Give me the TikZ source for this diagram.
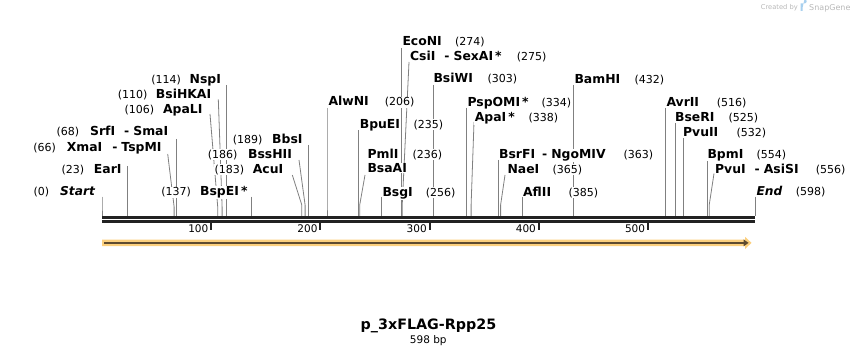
\documentclass[tikz,border=0pt]{standalone}
\usepackage{fontspec}
\setmainfont{DejaVu Sans}
\definecolor{bb}{HTML}{222222}
\definecolor{siteg}{HTML}{808080}
\definecolor{orng}{HTML}{FCD07E}
\definecolor{darkarr}{HTML}{5E4B30}
\definecolor{wm}{HTML}{B8B8B8}
\definecolor{wmblue}{HTML}{A8D0EE}
\newcommand\mysite[5]{%
  \coordinate (t#1) at (#2,#3);
  \coordinate (b#1) at (#5,#4);
  \coordinate (s#1) at (#5,216);
  \draw[siteline] (t#1) -- (b#1) -- (s#1);}
\begin{document}
\begin{tikzpicture}[x=1pt,y=-1pt,
  siteline/.style={draw=siteg,line width=0.8pt},
  nm/.style={font=\bfseries\fontsize{12.4}{12.4}\selectfont,inner sep=0.6pt,fill=white,text=black},
  nmi/.style={nm,font=\bfseries\itshape\fontsize{12.2}{12.2}\selectfont},
  num/.style={font=\fontsize{11}{11}\selectfont,inner sep=0.6pt,fill=white,text=black},
  ticklbl/.style={font=\fontsize{10.5}{10.5}\selectfont,inner sep=0pt,anchor=base east},
  tickmark/.style={draw=bb,line width=2pt}]
\useasboundingbox (0,0) rectangle (858,355);

% ---------- site lines ----------
\mysite{Start}{102}{196.7}{206}{102}
\mysite{EarI}{127.1}{166}{206}{127.1}
\mysite{XmaI}{167.7}{154}{206.7}{174.1}
\mysite{SrfI}{176.3}{139}{206}{176.3}
\mysite{ApaLI}{210}{114}{206.7}{217.7}
\mysite{BsiHKAI}{218.3}{99.3}{206.7}{222.1}
\mysite{NspI}{226.5}{85}{206}{226.5}
\mysite{BspEI}{251.6}{196.7}{206}{251.6}
\mysite{AcuI}{292.3}{175}{205}{301.8}
\mysite{BssHII}{299}{160}{205}{305.1}
\mysite{BbsI}{308.4}{145}{205}{308.4}
\mysite{AlwNI}{327}{108}{205}{327}
\mysite{BpuEI}{358.6}{130.5}{205}{358.6}
\mysite{BsaAI}{365}{175}{205}{359.7}
\mysite{BsgI}{381.5}{197}{205}{381.5}
\mysite{EcoNI}{401.2}{48}{205}{401.2}
\mysite{CsiI}{409}{62}{203}{402.3}
\mysite{BsiWI}{432.9}{85}{205}{432.9}
\mysite{PspOMI}{466.7}{108}{205}{466.7}
\mysite{ApaI}{474}{122}{205}{471.1}
\mysite{BamHI}{573.7}{85}{205}{573.7}
\mysite{BsrFI}{498.4}{160}{205}{498.4}
\mysite{NaeI}{505}{175}{205}{500.6}
\mysite{AflII}{522.4}{197}{205}{522.4}
\mysite{AvrII}{665.5}{108}{205}{665.5}
\mysite{BseRI}{675}{123}{205}{675}
\mysite{PvuII}{683}{138}{205}{683}
\mysite{BpmI}{707}{160}{205}{707}
\mysite{PvuI}{714}{173.5}{205}{709.2}
\mysite{End}{755}{196.7}{205}{755}

% ---------- backbone ----------
\fill[bb] (102,216) rectangle (755,219);
\fill[bb] (102,220) rectangle (755,223);

% ---------- ticks ----------
\foreach \p/\lab in {100/100,200/200,300/300,400/400,500/500}{
  \coordinate (tk\p) at ({102+1.09197*\p},223);
  \coordinate (tb\p) at ({102+1.09197*\p},230);
  \draw[tickmark] (tk\p) -- (tb\p);
  \node[ticklbl] (tl\p) at ({102+1.09197*\p-2.7},232.3) {\lab};
}

% ---------- feature arrow ----------
\fill[orng] (102,239.5) -- (745,239.5) -- (745,236.8) -- (751.5,242.9) -- (745,249) -- (745,246.2) -- (102,246.2) -- cycle;
\draw[darkarr,line width=2pt] (104,242.9) -- (745,242.9);
\fill[darkarr] (743.5,239.4) -- (748.6,242.9) -- (743.5,246.4) -- cycle;

% ---------- left-hand labels ----------
\node[nmi,anchor=base east] (nStart) at (95.7,196) {Start};
\node[num,anchor=base east] (pStart) at (50,196) {(0)};
\node[nm,anchor=base east] (nEarI) at (122.3,173.3) {EarI};
\node[num,anchor=base east] (pEarI) at (85,173.3) {(23)};
\node[nm,anchor=base east] (nXmaI) at (162.3,151.6) {XmaI\hspace{10pt}-\hspace{4pt}TspMI};
\node[num,anchor=base east] (pXmaI) at (56.7,151.6) {(66)};
\node[nm,anchor=base east] (nSrfI) at (169,136) {SrfI\hspace{9pt}-\hspace{4pt}SmaI};
\node[num,anchor=base east] (pSrfI) at (80,136) {(68)};
\node[nm,anchor=base east] (nApaLI) at (203.3,113.6) {ApaLI};
\node[num,anchor=base east] (pApaLI) at (155,113.6) {(106)};
\node[nm,anchor=base east] (nBsiHKAI) at (212,98.3) {BsiHKAI};
\node[num,anchor=base east] (pBsiHKAI) at (148.3,98.3) {(110)};
\node[nm,anchor=base east] (nNspI) at (221.7,83.3) {NspI};
\node[num,anchor=base east] (pNspI) at (181.7,83.3) {(114)};
\node[nm,anchor=base east] (nBspEI) at (248.3,196) {BspEI\,*};
\node[num,anchor=base east] (pBspEI) at (191.7,196) {(137)};
\node[nm,anchor=base east] (nAcuI) at (284,173.3) {AcuI};
\node[num,anchor=base east] (pAcuI) at (245,173.3) {(183)};
\node[nm,anchor=base east] (nBssHII) at (292.7,158.3) {BssHII};
\node[num,anchor=base east] (pBssHII) at (238.3,158.3) {(186)};
\node[nm,anchor=base east] (nBbsI) at (303.3,143.3) {BbsI};
\node[num,anchor=base east] (pBbsI) at (263.3,143.3) {(189)};

% ---------- right-hand labels ----------
\node[nm,anchor=base west] (nAlwNI) at (327.7,106) {AlwNI};
\node[num,anchor=base west] (pAlwNI) at (384,106) {(206)};
\node[nm,anchor=base west] (nBpuEI) at (359,128.3) {BpuEI};
\node[num,anchor=base west] (pBpuEI) at (412.7,128.3) {(235)};
\node[nm,anchor=base west] (nPmlI) at (366.7,158.3) {PmlI};
\node[num,anchor=base west] (pPmlI) at (411.7,158.3) {(236)};
\node[nm,anchor=base west] (nBsaAI) at (366.7,172.6) {BsaAI};
\node[nm,anchor=base west] (nBsgI) at (381.7,196.3) {BsgI};
\node[num,anchor=base west] (pBsgI) at (425,196.3) {(256)};
\node[nm,anchor=base west] (nEcoNI) at (401.7,46) {EcoNI};
\node[num,anchor=base west] (pEcoNI) at (454.3,46) {(274)};
\node[nm,anchor=base west] (nCsiI) at (409.3,61) {CsiI\hspace{9pt}-\hspace{4pt}SexAI\,*};
\node[num,anchor=base west] (pCsiI) at (516,61) {(275)};
\node[nm,anchor=base west] (nBsiWI) at (432.7,83) {BsiWI};
\node[num,anchor=base west] (pBsiWI) at (486.7,83) {(303)};
\node[nm,anchor=base west] (nPspOMI) at (466.7,106.6) {PspOMI\,*};
\node[num,anchor=base west] (pPspOMI) at (540.7,106.6) {(334)};
\node[nm,anchor=base west] (nApaI) at (474,121.6) {ApaI\,*};
\node[num,anchor=base west] (pApaI) at (527.7,121.6) {(338)};
\node[nm,anchor=base west] (nBamHI) at (573.7,83.3) {BamHI};
\node[num,anchor=base west] (pBamHI) at (633.7,83.3) {(432)};
\node[nm,anchor=base west] (nBsrFI) at (498.3,158.3) {BsrFI\hspace{7pt}-\hspace{4pt}NgoMIV};
\node[num,anchor=base west] (pBsrFI) at (622.7,158.3) {(363)};
\node[nm,anchor=base west] (nNaeI) at (506.7,173.3) {NaeI};
\node[num,anchor=base west] (pNaeI) at (551.7,173.3) {(365)};
\node[nm,anchor=base west] (nAflII) at (522.3,196.3) {AflII};
\node[num,anchor=base west] (pAflII) at (567.7,196.3) {(385)};
\node[nm,anchor=base west] (nAvrII) at (665.7,106.3) {AvrII};
\node[num,anchor=base west] (pAvrII) at (716,106.3) {(516)};
\node[nm,anchor=base west] (nBseRI) at (674.3,121.6) {BseRI};
\node[num,anchor=base west] (pBseRI) at (727.7,121.6) {(525)};
\node[nm,anchor=base west] (nPvuII) at (682.3,136.6) {PvuII};
\node[num,anchor=base west] (pPvuII) at (735.7,136.6) {(532)};
\node[nm,anchor=base west] (nBpmI) at (706.7,158.3) {BpmI};
\node[num,anchor=base west] (pBpmI) at (755.7,158.3) {(554)};
\node[nm,anchor=base west] (nPvuI) at (714.3,173.3) {PvuI\hspace{9pt}-\hspace{4pt}AsiSI};
\node[num,anchor=base west] (pPvuI) at (815,173.3) {(556)};
\node[nmi,anchor=base west] (nEnd) at (755.7,196) {End};
\node[num,anchor=base west] (pEnd) at (795,196) {(598)};

% ---------- title ----------
\node[font=\bfseries\fontsize{14.3}{14.3}\selectfont,inner sep=0pt,anchor=base] (title) at (428.5,329) {p\_3xFLAG-Rpp25};
\node[font=\fontsize{10.5}{10.5}\selectfont,inner sep=0pt,anchor=base] (size) at (428.3,343) {598 bp};

% ---------- watermark ----------
\node[font=\fontsize{6.7}{6.7}\selectfont,text=wm,inner sep=0pt,anchor=base west] (wmtext) at (760.7,9.8) {Created by};
\fill[wmblue] (800.5,3.5) -- (804.5,3.5) arc[start angle=90,end angle=-90,radius=2.2] -- (802.5,7.9) -- (802.5,11) -- (800.5,11) -- cycle;
\node[font=\fontsize{8}{8}\selectfont,text=wm,inner sep=0pt,anchor=base west] (wmsg) at (809,10.3) {SnapGene};
\end{tikzpicture}
\end{document}
